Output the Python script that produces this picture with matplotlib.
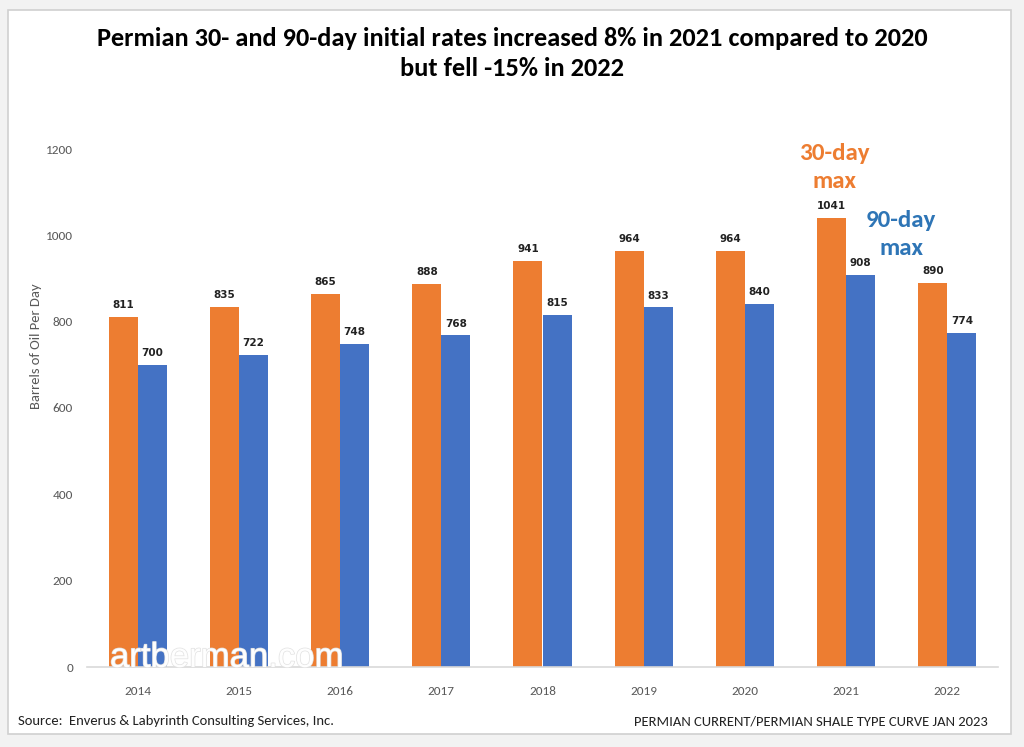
import matplotlib
matplotlib.use("Agg")
import matplotlib.pyplot as plt
import matplotlib.patheffects as pe
from matplotlib.patches import Rectangle
import numpy as np

years = ["2014", "2015", "2016", "2017", "2018", "2019", "2020", "2021", "2022"]
ip30 = [811, 835, 865, 888, 941, 964, 964, 1041, 890]
ip90 = [700, 722, 748, 768, 815, 833, 840, 908, 774]
yticks = [0, 200, 400, 600, 800, 1000, 1200]

ORANGE = "#ED7D31"
BLUE = "#4472C4"
BLUE_TXT = "#2E75B6"
FONT = ["Carlito", "DejaVu Sans"]
plt.rcParams["font.family"] = FONT

fig = plt.figure(figsize=(10.24, 7.47), dpi=100)
fig.patch.set_facecolor("#F2F2F2")
fig.patches.append(Rectangle((8/1024, 1-734/747), (1011-8)/1024, (734-10)/747,
                             transform=fig.transFigure, facecolor="white",
                             edgecolor="#D0D0D0", lw=1.2, zorder=-5))

ax = fig.add_axes([87/1024, 1-667/747, (998-87)/1024, (667-149)/747])
ax.set_facecolor("none")
x = np.arange(len(years))
w = 0.287
ax.bar(x - w/2, ip30, w, color=ORANGE, zorder=2)
ax.bar(x + w/2, ip90, w, color=BLUE, zorder=2)
for xi, v in zip(x, ip30):
    ax.text(xi - w/2, v + 16, str(v), ha="center", va="bottom", fontsize=7.5,
            fontweight="bold", color="#222222", family=["DejaVu Sans"])
for xi, v in zip(x, ip90):
    ax.text(xi + w/2, v + 16, str(v), ha="center", va="bottom", fontsize=7.5,
            fontweight="bold", color="#222222", family=["DejaVu Sans"])

ax.set_xlim(-0.5, len(years) - 0.5)
ax.set_ylim(0, 1200)
ax.set_yticks(yticks)
ax.set_xticks(x)
ax.set_xticklabels(years)
ax.tick_params(axis="both", length=0, labelsize=9.5, colors="#595959")
ax.tick_params(axis="y", pad=10)
ax.tick_params(axis="x", pad=14)
for s in ["top", "right", "left"]:
    ax.spines[s].set_visible(False)
ax.spines["bottom"].set_color("#D9D9D9")
ax.spines["bottom"].set_linewidth(1.2)
fig.text(36/1024, 1-346/747, "Barrels of Oil Per Day", rotation=90, ha="center",
         va="center", fontsize=10.5, color="#595959")

# annotations
ax.text(7 - w/2 + 0.03, 1190, "30-day", ha="center", va="center", fontsize=18,
        fontweight="bold", color=ORANGE, clip_on=False)
ax.text(7 - w/2 + 0.03, 1125, "max", ha="center", va="center", fontsize=18,
        fontweight="bold", color=ORANGE, clip_on=False)
ax.text(7 + w/2 + 0.4, 1035, "90-day", ha="center", va="center", fontsize=18,
        fontweight="bold", color=BLUE_TXT, clip_on=False)
ax.text(7 + w/2 + 0.4, 970, "max", ha="center", va="center", fontsize=18,
        fontweight="bold", color=BLUE_TXT, clip_on=False)

# watermark
fig.text(110/1024, 1-667/747, "artberman.com", fontsize=25, color="white", alpha=0.95,
         ha="left", va="baseline", family=["Liberation Sans", "DejaVu Sans"],
         path_effects=[pe.withStroke(linewidth=1.0, foreground="#E0E0E0")], zorder=5)

fig.text(512/1024, 1-38/747, "Permian 30- and 90-day initial rates increased 8% in 2021 compared to 2020",
         ha="center", va="center", fontsize=19, fontweight="bold", color="black")
fig.text(512/1024, 1-69/747, "but fell -15% in 2022",
         ha="center", va="center", fontsize=19, fontweight="bold", color="black")

fig.text(18/1024, 1-721/747, "Source:  Enverus & Labyrinth Consulting Services, Inc.",
         ha="left", va="center", fontsize=10.5, color="#222222")
fig.text(988/1024, 1-721/747, "PERMIAN CURRENT/PERMIAN SHALE TYPE CURVE JAN 2023",
         ha="right", va="center", fontsize=10.5, color="#222222")

fig.savefig("out.png", dpi=100, facecolor=fig.get_facecolor())
